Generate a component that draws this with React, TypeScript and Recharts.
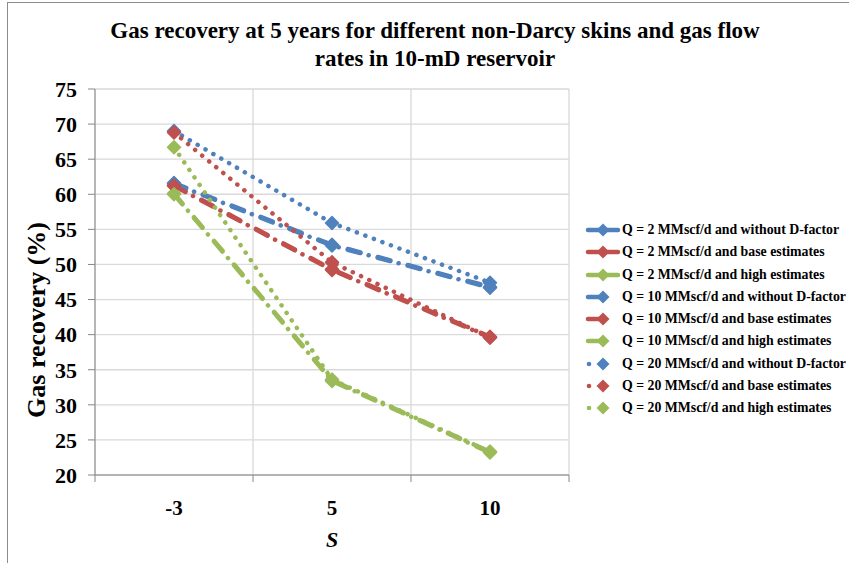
import { LineChart, Line, XAxis, YAxis, CartesianGrid } from 'recharts';

const categories = ['-3', '5', '10'];
const yTicks = [20, 25, 30, 35, 40, 45, 50, 55, 60, 65, 70, 75];

// gas recovery (%) at S = -3, 5, 10
const q2NoD = [61.6, 52.8, 46.8];
const q2Base = [61.3, 49.3, 39.7];
const q2High = [60.1, 33.5, 23.3];
const q10NoD = [61.5, 52.7, 46.7];
const q10Base = [61.2, 49.2, 39.6];
const q10High = [60.0, 33.4, 23.2];
const q20NoD = [69.0, 55.9, 47.4];
const q20Base = [68.8, 50.3, 39.6];
const q20High = [66.7, 33.6, 23.3];

const BLUE = '#4F81BD';
const RED = '#C0504D';
const GREEN = '#9BBB59';
const FONT = '"Liberation Serif", "Times New Roman", serif';

type Kind = 'long' | 'dashdot' | 'dot';

const dashFor: Record<Kind, string> = {
  long: '13 18',
  dashdot: '13 8.5 0.1 9.4',
  dot: '0.1 9',
};

const series: { key: string; name: string; values: number[]; color: string; kind: Kind }[] = [
  { key: 'q2NoD', name: 'Q = 2 MMscf/d and without D-factor', values: q2NoD, color: BLUE, kind: 'long' },
  { key: 'q2Base', name: 'Q = 2 MMscf/d and base estimates', values: q2Base, color: RED, kind: 'long' },
  { key: 'q2High', name: 'Q = 2 MMscf/d and high estimates', values: q2High, color: GREEN, kind: 'long' },
  { key: 'q10NoD', name: 'Q = 10 MMscf/d and without D-factor', values: q10NoD, color: BLUE, kind: 'dashdot' },
  { key: 'q10Base', name: 'Q = 10 MMscf/d and base estimates', values: q10Base, color: RED, kind: 'dashdot' },
  { key: 'q10High', name: 'Q = 10 MMscf/d and high estimates', values: q10High, color: GREEN, kind: 'dashdot' },
  { key: 'q20NoD', name: 'Q = 20 MMscf/d and without D-factor', values: q20NoD, color: BLUE, kind: 'dot' },
  { key: 'q20Base', name: 'Q = 20 MMscf/d and base estimates', values: q20Base, color: RED, kind: 'dot' },
  { key: 'q20High', name: 'Q = 20 MMscf/d and high estimates', values: q20High, color: GREEN, kind: 'dot' },
];

const data = categories.map((cat, i) => {
  const row: Record<string, number | string> = { pos: i + 0.5, cat };
  series.forEach((s) => {
    row[s.key] = s.values[i];
  });
  return row;
});

const boundaries = categories.map((_, i) => i).concat(categories.length);
const xTicks = boundaries.concat(categories.map((_, i) => i + 0.5)).sort((a, b) => a - b);

const diamond = (color: string, r = 6.5) => (props: any) => {
  const { cx, cy, index } = props;
  if (cx == null || cy == null) return <g key={index} />;
  return (
    <path
      key={index}
      d={`M${cx},${cy - r}L${cx + r},${cy}L${cx},${cy + r}L${cx - r},${cy}Z`}
      fill={color}
      stroke={color}
      strokeWidth={1.5}
      strokeLinejoin="round"
    />
  );
};

const XTick = (props: any) => {
  const { x, y, payload } = props;
  const v = payload.value as number;
  if (Number.isInteger(v)) {
    return <line x1={x} x2={x} y1={y} y2={y + 7} stroke="#868686" />;
  }
  return (
    <text x={x} y={y + 40} textAnchor="middle" fontFamily={FONT} fontSize={21} fontWeight="bold" fill="#000">
      {categories[Math.floor(v)]}
    </text>
  );
};

function LegendIcon({ color, kind }: { color: string; kind: Kind }) {
  return (
    <svg width={36} height={14} style={{ display: 'block', flex: 'none' }}>
      {kind === 'long' && <line x1={3} x2={33} y1={7} y2={7} stroke={color} strokeWidth={4.5} strokeLinecap="round" />}
      {kind === 'dashdot' && <line x1={3} x2={17} y1={7} y2={7} stroke={color} strokeWidth={4.5} strokeLinecap="round" />}
      {kind === 'dot' && <circle cx={4} cy={7} r={2.3} fill={color} />}
      <path d="M18,0.5L24.5,7L18,13.5L11.5,7Z" fill={color} />
    </svg>
  );
}

export default function App() {
  return (
    <div style={{ position: 'absolute', left: 0, top: 0, width: 849, height: 563, overflow: 'hidden', background: '#fff' }}>
      <div
        style={{
          position: 'absolute',
          left: 7,
          top: 2,
          width: 900,
          height: 700,
          border: '1px solid #8c8c8c',
        }}
      />
      <div
        style={{
          position: 'absolute',
          left: 0,
          top: 17,
          width: 870,
          textAlign: 'center',
          fontFamily: FONT,
          fontWeight: 'bold',
          fontSize: 23,
          lineHeight: '28px',
          color: '#000',
        }}
      >
        Gas recovery at 5 years for different non-Darcy skins and gas flow
        <br />
        rates in 10-mD reservoir
      </div>

      <LineChart
        width={849}
        height={563}
        data={data}
        margin={{ top: 89, right: 280, bottom: 28, left: 35 }}
        style={{ position: 'absolute', left: 0, top: 0 }}
      >
        <XAxis xAxisId="grid" type="number" dataKey="pos" domain={[0, categories.length]} ticks={boundaries} height={0} hide />
        <CartesianGrid xAxisId="grid" stroke="#d9d9d9" strokeWidth={1.3} />
        <XAxis
          xAxisId="main"
          type="number"
          dataKey="pos"
          domain={[0, categories.length]}
          ticks={xTicks}
          interval={0}
          tickLine={false}
          tickSize={0}
          tickMargin={0}
          height={60}
          stroke="#868686"
          tick={<XTick />}
          label={{
            value: 'S',
            position: 'center',
            dy: 34,
            fontFamily: FONT,
            fontSize: 22,
            fontWeight: 'bold',
            fontStyle: 'italic',
            fill: '#000',
          }}
        />
        <YAxis
          type="number"
          domain={[20, 75]}
          ticks={yTicks}
          interval={0}
          width={60}
          tickSize={7}
          tickMargin={11}
          stroke="#868686"
          tick={{ fontFamily: FONT, fontSize: 22, fontWeight: 'bold', fill: '#000' }}
          label={{
            value: 'Gas recovery (%)',
            angle: -90,
            position: 'center',
            dx: -29,
            dy: 38,
            fontFamily: FONT,
            fontSize: 26,
            fontWeight: 'bold',
            fill: '#000',
          }}
        />
        {series.map((s) => (
          <Line
            key={s.key}
            xAxisId="main"
            dataKey={s.key}
            name={s.name}
            type="linear"
            stroke={s.color}
            strokeWidth={4.5}
            strokeDasharray={dashFor[s.kind]}
            strokeLinecap="round"
            dot={diamond(s.color)}
            activeDot={false}
            isAnimationActive={false}
          />
        ))}
      </LineChart>

      <div style={{ position: 'absolute', left: 585, top: 219, fontFamily: FONT, fontWeight: 'bold', fontSize: 13.8, color: '#000' }}>
        {series.map((s) => (
          <div key={s.key} style={{ display: 'flex', alignItems: 'center', height: 22.25, whiteSpace: 'nowrap' }}>
            <LegendIcon color={s.color} kind={s.kind} />
            <span style={{ marginLeft: 1 }}>{s.name}</span>
          </div>
        ))}
      </div>
    </div>
  );
}
